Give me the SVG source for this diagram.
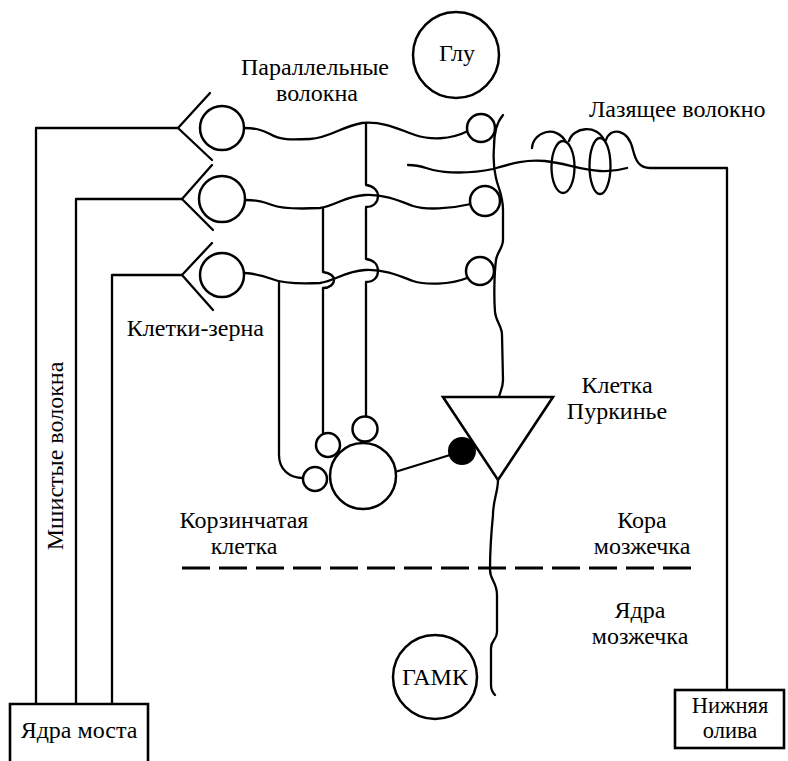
<svg xmlns="http://www.w3.org/2000/svg" width="788" height="761" viewBox="0 0 788 761">
<style>
.ln{fill:none;stroke:#000;stroke-width:2.3;stroke-linecap:round;stroke-linejoin:round}
.c{fill:#fff;stroke:#000;stroke-width:2.5}
text{font-family:"Liberation Serif","DejaVu Serif","Times New Roman",serif;font-size:24px;fill:#000}
.m{text-anchor:middle}
</style>
<rect width="788" height="761" fill="#fff"/>
<g id="connectors">
  <path class="ln" d="M36,705 V128 H178"/>
  <path class="ln" d="M76,705 V199 H182"/>
  <path class="ln" d="M112,705 V275 H182"/>
  <path class="ln" d="M244,128 C256,128 262,130 270,134 C280,140 290,140 310,139 C330,138 340,127 362,123 C385,121 400,130 415,135 C430,140 450,140 468,131"/>
  <path class="ln" d="M245,200 C258,200 264,202 272,205 C282,209 300,209 320,208 C335,206 345,196 365,195 C385,194 400,201 413,206 C425,210 450,209 471,204"/>
  <path class="ln" d="M245,273 C258,274 264,276 272,279 C282,283 300,284 320,283 C335,281 345,271 365,270 C385,269 400,276 413,281 C425,285 450,285 467,278"/>
  <path class="ln" d="M366,123 V185 C374,186 378,191 378,196 C378,202 374,207 366,207 V259 C374,260 378,265 378,271 C378,277 374,282 366,282 V417"/>
  <path class="ln" d="M323,208 V272 C330,273 334,276 334,280 C334,284 330,288 323,288 V434"/>
  <path class="ln" d="M279,283 V455 C279,470 290,478 303,478"/>
  <path class="ln" d="M395,472 L450,455"/>
  <path class="ln" d="M503,115 C497,122 494,132 494,147 C493,160 494,170 496,178 C498,188 503,195 503,210 L503,240 C503,248 497,252 496,260 C494,275 494,300 495,312 C496,322 502,326 502,335 L503,380 C503,388 500,392 499,397"/>
  <path class="ln" d="M498,480 C498,492 493,500 493,515 C491,535 490,555 490,570 C490,580 497,582 497,595 L497,632 C497,640 491,640 491,648 L491,685 C491,690 493,693 495,695"/>
  <path class="ln" d="M408,165 C420,165 425,168 433,170 C445,173 470,174 493,169 C510,164 525,159 545,161 C565,163 580,170 600,171 C612,172 620,170 627,168"/>
  <path class="ln" d="M532,148 C533,132 556,124 566,142"/>
  <path class="ln" d="M569,141 C573,127 597,124 604,140"/>
  <path class="ln" d="M606,140 C610,127 628,128 633,150 C636,162 640,168 650,168 L727,168 L727,690"/>
  <ellipse class="ln" cx="563" cy="167" rx="11.5" ry="26"/>
  <ellipse class="ln" cx="600" cy="166" rx="10.5" ry="28"/>
</g>
<path id="boundary" d="M182,568 H695" fill="none" stroke="#000" stroke-width="3" stroke-dasharray="28,9"/>
<g id="granule1">
  <path class="ln" d="M210,93 L178,128 L212,160"/>
  <circle class="c" cx="222" cy="128" r="22"/>
</g>
<g id="granule2">
  <path class="ln" d="M212,165 L182,199 L213,230"/>
  <circle class="c" cx="222" cy="199" r="23"/>
</g>
<g id="granule3">
  <path class="ln" d="M212,243 L182,275 L213,310"/>
  <circle class="c" cx="222" cy="275" r="22"/>
</g>
<g id="synapses">
  <circle class="c" cx="481" cy="128" r="14"/>
  <circle class="c" cx="485" cy="201" r="15"/>
  <circle class="c" cx="480" cy="271" r="14"/>
</g>
<g id="glu">
  <circle class="c" cx="456" cy="55" r="43"/>
  <text class="m" x="457" y="61">Глу</text>
</g>
<g id="basket">
  <circle class="c" cx="363" cy="476" r="33"/>
  <circle class="c" cx="315" cy="479" r="12"/>
  <circle class="c" cx="328" cy="445" r="12"/>
  <circle class="c" cx="365" cy="429" r="12.5"/>
</g>
<g id="purkinje">
  <polygon points="443,397 553,397 498,480" fill="#fff" stroke="#000" stroke-width="2.6" stroke-linejoin="miter"/>
  <circle cx="462" cy="451" r="14" fill="#000"/>
</g>
<g id="gamk">
  <circle class="c" cx="435" cy="677" r="42"/>
  <text class="m" x="435" y="685">ГАМК</text>
</g>
<g id="pons">
  <path d="M10,761 V704 H148 V761" fill="#fff" stroke="#000" stroke-width="2.6"/>
  <text class="m" x="79" y="738">Ядра моста</text>
</g>
<g id="olive">
  <rect x="675" y="690" width="109" height="58" fill="#fff" stroke="#000" stroke-width="2.6"/>
  <text class="m" x="730" y="713" style="font-size:22.5px">Нижняя</text>
  <text class="m" x="730" y="738" style="font-size:22.5px">олива</text>
</g>
<g id="labels">
  <text class="m" x="315" y="75">Параллельные</text>
  <text class="m" x="317" y="101">волокна</text>
  <text x="589" y="117">Лазящее волокно</text>
  <text x="264" y="336" style="text-anchor:end">Клетки-зерна</text>
  <text class="m" transform="translate(63,456) rotate(-90)">Мшистые волокна</text>
  <text class="m" x="617" y="393">Клетка</text>
  <text class="m" x="617" y="419">Пуркинье</text>
  <text class="m" x="244" y="528">Корзинчатая</text>
  <text class="m" x="244" y="554">клетка</text>
  <text class="m" x="642" y="528">Кора</text>
  <text class="m" x="642" y="554">мозжечка</text>
  <text class="m" x="640" y="618">Ядра</text>
  <text class="m" x="640" y="644">мозжечка</text>
</g>
</svg>
